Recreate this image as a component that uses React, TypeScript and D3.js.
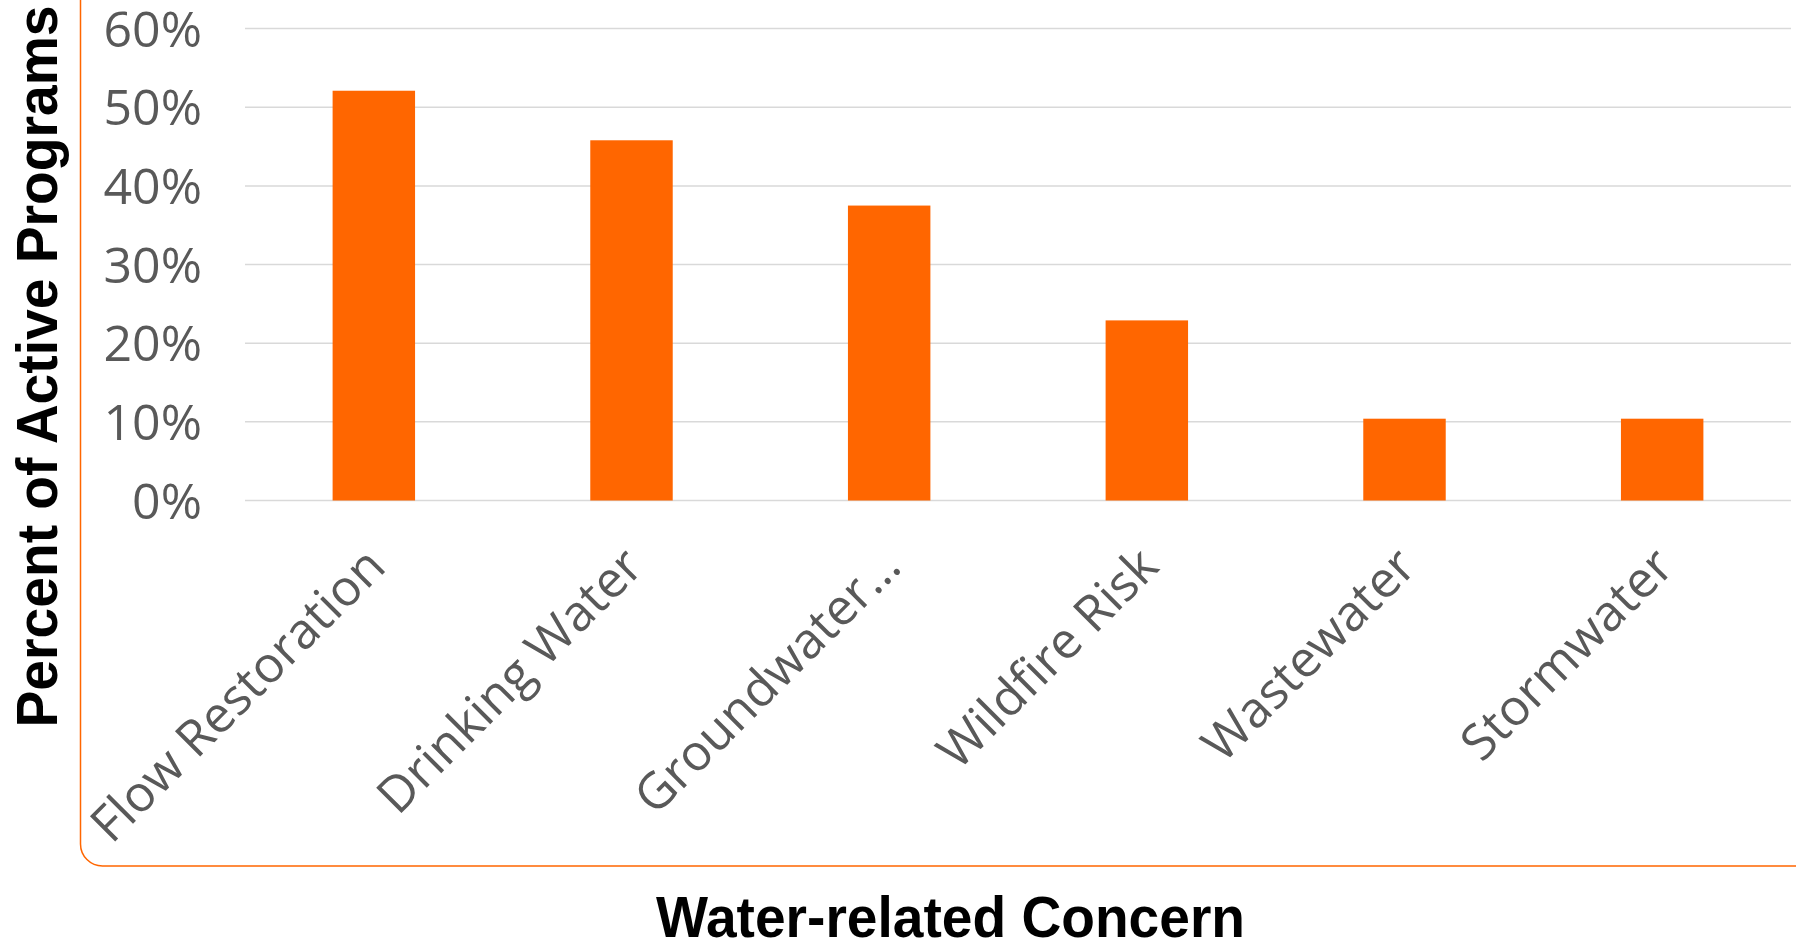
import React from "react";
import * as d3 from "d3";

const categories = ["Flow Restoration", "Drinking Water", "Groundwater…", "Wildfire Risk", "Wastewater", "Stormwater"];
const values = [0.521, 0.458, 0.375, 0.229, 0.104, 0.104];
const yTicks = [0, 0.1, 0.2, 0.3, 0.4, 0.5, 0.6];
const yTitle = "Percent of Active Programs";
const xTitle = "Water-related Concern";

const W = 1796;
const H = 940;
const ORANGE = "#FF6600";
const GRAY = "#595959";

export default function App() {
  const x = d3.scaleBand<string>().domain(categories).range([245, 1791]).paddingInner(0.68).paddingOuter(0.34);
  const y = d3.scaleLinear().domain([0, 0.6]).range([500.5, 28.6]);
  const fmt = d3.format(".0%");
  const labelFont = "'Open Sans', 'DejaVu Sans', sans-serif";
  const titleFont = "'Liberation Sans', Arial, sans-serif";

  return (
    <svg width={W} height={H} style={{ position: "absolute", left: 0, top: 0, background: "#fff" }}>
      <rect x={0} y={0} width={W} height={H} fill="#fff" />
      {/* chart area border */}
      <rect x={80.5} y={-100} width={1800} height={966} rx={22} ry={22} fill="none" stroke={ORANGE} strokeWidth={1.5} />
      {/* gridlines */}
      {yTicks.map((t) => (
        <line key={"g" + t} x1={245} x2={1791} y1={y(t)} y2={y(t)} stroke="#d9d9d9" strokeWidth={1.5} />
      ))}
      {/* y tick labels */}
      {yTicks.map((t) => (
        <text key={"t" + t} x={202} y={y(t)} dy="0.36em" textAnchor="end" fontFamily={labelFont} fontSize={50} fill={GRAY}>
          {fmt(t)}
        </text>
      ))}
      {/* bars */}
      {categories.map((c, i) => (
        <rect key={c} x={x(c)} y={y(values[i])} width={x.bandwidth()} height={y(0) - y(values[i])} fill={ORANGE} />
      ))}
      {/* category labels */}
      {categories.map((c) => {
        const cx = (x(c) as number) + x.bandwidth() / 2;
        return (
          <text
            key={"l" + c}
            transform={`translate(${cx + 14},569) rotate(-45)`}
            textAnchor="end"
            fontFamily={labelFont}
            fontSize={50}
            fill={GRAY}
          >
            {c}
          </text>
        );
      })}
      {/* axis titles */}
      <text
        transform={`translate(57,366.5) rotate(-90)`}
        textAnchor="middle"
        fontFamily={titleFont}
        fontWeight="bold"
        fontSize={57}
        fill="#000"
        textLength={722}
        lengthAdjust="spacingAndGlyphs"
      >
        {yTitle}
      </text>
      <text
        x={950.5}
        y={937}
        textAnchor="middle"
        fontFamily={titleFont}
        fontWeight="bold"
        fontSize={57}
        fill="#000"
        textLength={589}
        lengthAdjust="spacingAndGlyphs"
      >
        {xTitle}
      </text>
    </svg>
  );
}
